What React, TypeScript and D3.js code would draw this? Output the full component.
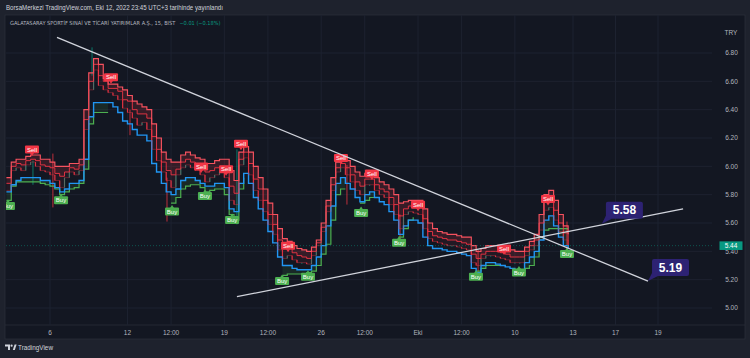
import React, { useLayoutEffect, useRef, useState } from "react";
import * as d3 from "d3";

const W = 750;
const H = 358;

// Time axis (trading days, Sep 6 = day 1)
const dayTicks = [1, 5, 7.25, 10, 12.25, 15, 17.25, 20, 22.25, 25, 28, 30, 32];
const dayTickLabels = ["6", "12", "12:00", "19", "12:00", "26", "12:00", "Eki", "12:00", "10", "13", "17", "19"];
const priceTicks = [5.0, 5.2, 5.4, 5.6, 5.8, 6.0, 6.2, 6.4, 6.6, 6.8];

const startDay = -1.25;
const stepDay = 0.25;

const closeVals = [
  5.83, 5.97, 5.99, 5.97, 6.01, 6.03, 6.0, 5.97, 5.96, 5.94,
  5.9, 5.85, 5.92, 5.96, 5.94, 5.97, 6.26, 6.54, 6.68, 6.57,
  6.54, 6.52, 6.5, 6.47, 6.41, 6.38, 6.34, 6.29, 6.31, 6.26,
  6.12, 6.04, 5.96, 5.9, 5.85, 5.94, 5.99, 6.01, 5.99, 5.97,
  5.94, 5.89, 5.92, 5.94, 5.96, 5.92, 5.76, 5.73, 6.01, 6.06,
  5.94, 5.83, 5.76, 5.68, 5.59, 5.52, 5.41, 5.35, 5.37, 5.34,
  5.32, 5.32, 5.31, 5.37, 5.44, 5.54, 5.68, 5.83, 5.96, 5.99,
  5.94, 5.89, 5.83, 5.8, 5.87, 5.87, 5.83, 5.8, 5.78, 5.73,
  5.66, 5.56, 5.66, 5.68, 5.67, 5.66, 5.56, 5.49, 5.47, 5.46,
  5.45, 5.44, 5.44, 5.43, 5.42, 5.41, 5.32, 5.3, 5.35, 5.37,
  5.37, 5.36, 5.35, 5.34, 5.32, 5.32, 5.32, 5.37, 5.41, 5.44,
  5.55, 5.69, 5.71, 5.62, 5.54, 5.48, 5.44,
];

const redTop = [
  5.92, 6.03, 6.05, 6.05, 6.07, 6.08, 6.08, 6.05, 6.05, 6.03,
  6.0, 6.0, 6.0, 6.02, 6.02, 6.05, 6.4, 6.66, 6.76, 6.72,
  6.62, 6.58, 6.58, 6.56, 6.54, 6.5, 6.46, 6.44, 6.42, 6.4,
  6.3, 6.2, 6.1, 6.05, 6.03, 6.03, 6.08, 6.1, 6.08, 6.06,
  6.05, 6.02, 6.02, 6.04, 6.05, 6.05, 5.97, 5.9, 6.1, 6.14,
  6.1, 6.0, 5.92, 5.84, 5.74, 5.66, 5.56, 5.49, 5.47, 5.44,
  5.42, 5.41, 5.4, 5.43, 5.48, 5.6, 5.76, 5.92, 6.03, 6.06,
  6.04, 6.0, 5.96, 5.93, 5.95, 5.96, 5.92, 5.89, 5.87, 5.84,
  5.8, 5.74, 5.75, 5.76, 5.76, 5.76, 5.7, 5.6, 5.56, 5.54,
  5.53, 5.52, 5.52, 5.51, 5.5, 5.5, 5.44, 5.4, 5.42, 5.44,
  5.44, 5.44, 5.43, 5.42, 5.41, 5.4, 5.4, 5.43, 5.47, 5.52,
  5.66, 5.8, 5.83, 5.76, 5.66, 5.58, 5.52,
];

const redMid = [
  5.88, 6.0, 6.02, 6.01, 6.04, 6.05, 6.04, 6.01, 6.0, 5.99,
  5.95, 5.93, 5.96, 5.99, 5.98, 6.01, 6.33, 6.6, 6.72, 6.64,
  6.6, 6.55, 6.55, 6.53, 6.47, 6.46, 6.4, 6.37, 6.37, 6.34,
  6.21, 6.12, 6.03, 5.97, 5.94, 5.98, 6.03, 6.05, 6.03, 6.01,
  5.99, 5.96, 5.97, 5.99, 6.0, 5.98, 5.86, 5.81, 6.05, 6.1,
  6.02, 5.91, 5.84, 5.76, 5.66, 5.59, 5.48, 5.42, 5.42, 5.39,
  5.37, 5.36, 5.35, 5.4, 5.46, 5.57, 5.72, 5.87, 5.99, 6.02,
  5.99, 5.94, 5.89, 5.86, 5.91, 5.91, 5.87, 5.84, 5.82, 5.78,
  5.73, 5.65, 5.7, 5.72, 5.71, 5.71, 5.63, 5.54, 5.51, 5.5,
  5.49, 5.48, 5.48, 5.47, 5.46, 5.45, 5.38, 5.35, 5.38, 5.4,
  5.4, 5.4, 5.39, 5.38, 5.36, 5.36, 5.36, 5.4, 5.44, 5.48,
  5.6, 5.75, 5.77, 5.69, 5.6, 5.53, 5.48,
];

const blueVals = [
  5.82, 5.87, 5.9, 5.92, 5.92, 5.92, 5.92, 5.9, 5.9, 5.88,
  5.85, 5.82, 5.84, 5.88, 5.88, 5.9, 6.05, 6.35, 6.45, 6.45,
  6.45, 6.45, 6.42, 6.38, 6.32, 6.3, 6.26, 6.22, 6.22, 6.18,
  6.02, 5.96, 5.88, 5.82, 5.8, 5.84, 5.9, 5.92, 5.92, 5.9,
  5.88, 5.86, 5.86, 5.88, 5.88, 5.85, 5.7, 5.68, 5.88, 5.95,
  5.88, 5.78, 5.7, 5.62, 5.54, 5.46, 5.36, 5.3, 5.3, 5.28,
  5.27, 5.27, 5.27, 5.3, 5.36, 5.44, 5.58, 5.72, 5.88, 5.92,
  5.88, 5.84, 5.78, 5.75, 5.8, 5.82, 5.78, 5.75, 5.73, 5.68,
  5.62, 5.52, 5.58, 5.62, 5.62, 5.6, 5.5, 5.44, 5.42, 5.42,
  5.41, 5.4, 5.4, 5.39, 5.38, 5.37, 5.28, 5.25, 5.3, 5.32,
  5.32, 5.31, 5.3, 5.29, 5.28, 5.27, 5.27, 5.32, 5.36, 5.4,
  5.48, 5.62, 5.65, 5.58, 5.5, 5.44, 5.42,
];

const greenVals: (number | null)[] = [
  5.76, 5.86, 5.89, 5.89, 5.89, 5.89, 5.89, 5.88, 5.87, 5.86,
  5.84, 5.8, 5.82, 5.84, 5.85, 5.88, 5.98, 6.3, 6.38, 6.38,
  6.38, 6.38, null, null, null, null, null, null, null, null,
  null, null, null, null, 5.74, 5.78, 5.84, 5.86, 5.87, 5.87,
  5.85, 5.82, 5.83, 5.84, 5.84, 5.8, 5.66, 5.62, 5.84, 5.92,
  null, null, null, null, null, null, null, 5.23, 5.24, 5.24,
  5.24, 5.24, 5.25, 5.26, 5.3, 5.38, 5.45, 5.62, 5.8, 5.84,
  5.84, null, null, 5.74, 5.76, 5.78, 5.78, null, null, null,
  null, 5.5, 5.56, 5.62, 5.64, null, null, null, null, null,
  null, null, null, null, null, null, null, 5.26, 5.28, 5.3,
  5.3, 5.3, 5.3, 5.3, null, null, 5.26, 5.28, 5.3, 5.36,
  5.5, 5.55, 5.56, 5.56, 5.56, 5.56, 5.56,
];

// Notable candle wicks: day, high, low
const wickDays = [0.12, 1.15, 3.17, 5.13, 7.04, 10.65, 16.33, 19.07, 23.1, 27.69];
const wickHighs = [6.04, 6.09, 6.84, 6.4, 5.92, 6.12, 6.01, 5.66, 5.41, 5.61];
const wickLows = [5.87, 5.71, 6.64, 6.22, 5.61, 5.59, 5.73, 5.44, 5.25, 5.4];

// Signals: day position and anchor price
const sellDays = [0.07, 4.15, 8.8, 10.09, 10.86, 13.29, 16.02, 17.62, 20.0, 24.44, 26.71];
const sellPrices = [6.07, 6.58, 5.95, 5.93, 6.11, 5.39, 6.01, 5.9, 5.68, 5.37, 5.72];
const buyDays = [-1.17, 1.57, 7.3, 9.0, 10.4, 12.98, 14.32, 17.06, 19.02, 22.99, 25.21, 27.69];
const buyPrices = [5.77, 5.81, 5.73, 5.84, 5.67, 5.24, 5.27, 5.72, 5.51, 5.27, 5.3, 5.43];

// Trend lines [day, price]
const trendDown = [[1.36, 6.91], [31.53, 5.19]];
const trendUp = [[10.65, 5.08], [33.18, 5.7]];
const calloutDays = [29.36, 31.53];
const calloutPrices = [5.595, 5.19];
const calloutTexts = ["5.58", "5.19"];

const lastPrice = 5.44;

const legendName = "GALATASARAY SPORTİF SINAİ VE TİCARİ YATIRIMLAR A.Ş., 15, BIST";
const legendChange = "−0.01 (−0.18%)";

const FONT = "'Liberation Sans', Arial, sans-serif";
const NARROW = "'Liberation Sans Narrow', 'DejaVu Sans Condensed', 'Liberation Sans', sans-serif";

export default function App() {
  const plotL = 6, plotR = 712, plotT = 15, plotB = 325;
  const x = d3.scaleLinear().domain([1, 28, 32]).range([50, 573, 658]);
  const y = d3.scaleLinear().domain([5.0, 6.8]).range([308, 53]);

  const legendRef = useRef<SVGTextElement>(null);
  const [legendEnd, setLegendEnd] = useState(190);
  useLayoutEffect(() => {
    if (legendRef.current) {
      setLegendEnd(10 + legendRef.current.getComputedTextLength());
    }
  }, []);

  const days = closeVals.map((_, i) => startDay + i * stepDay);

  const stepLine = (vals: (number | null)[]) =>
    d3
      .line<number>()
      .defined((i) => vals[i] != null)
      .x((i) => x(days[i]))
      .y((i) => y(vals[i] as number))
      .curve(d3.curveStepAfter)(d3.range(vals.length)) || "";

  const redArea =
    d3
      .area<number>()
      .x((i) => x(days[i]))
      .y0((i) => y(redMid[i]))
      .y1((i) => y(redTop[i]))
      .curve(d3.curveStepAfter)(d3.range(redTop.length)) || "";

  const redArea2 =
    d3
      .area<number>()
      .x((i) => x(days[i]))
      .y0((i) => y(closeVals[i]))
      .y1((i) => y(redMid[i]))
      .curve(d3.curveStepAfter)(d3.range(redTop.length)) || "";

  const greenArea =
    d3
      .area<number>()
      .defined((i) => greenVals[i] != null)
      .x((i) => x(days[i]))
      .y0((i) => y(greenVals[i] as number))
      .y1((i) => y(blueVals[i]))
      .curve(d3.curveStepAfter)(d3.range(greenVals.length)) || "";

  const nearestIdx = (d: number) =>
    Math.max(1, Math.min(closeVals.length - 1, Math.round((d - startDay) / stepDay)));

  return (
    <svg
      width={W}
      height={H}
      style={{ position: "absolute", left: 0, top: 0, display: "block" }}
      fontFamily={FONT}
    >
      <defs>
        <clipPath id="plotClip">
          <rect x={plotL} y={plotT} width={plotR - plotL} height={plotB - plotT} />
        </clipPath>
      </defs>
      <rect x={0} y={0} width={W} height={H} fill="#1e222d" />
      <rect x={5} y={15} width={740} height={324} fill="#131722" stroke="#2a2e39" strokeWidth={0.8} />
      <line x1={5} x2={745} y1={plotB} y2={plotB} stroke="#2a2e39" strokeWidth={0.8} />

      {/* header */}
      <text x={6} y={10} fontSize={6.5} fill="#d1d4dc" textLength={217} lengthAdjust="spacingAndGlyphs">
        BorsaMerkezi TradingView.com, Eki 12, 2022 23:45 UTC+3 tarihinde yayınlandı
      </text>

      {/* grid */}
      {priceTicks.map((p) => (
        <line key={"hg" + p} x1={plotL} x2={plotR} y1={y(p)} y2={y(p)} stroke="#1d2230" strokeWidth={1} />
      ))}
      {dayTicks.map((d, i) => (
        <line key={"vg" + i} x1={x(d)} x2={x(d)} y1={plotT} y2={plotB} stroke="#1d2230" strokeWidth={1} />
      ))}

      {/* legend */}
      <text ref={legendRef} x={10} y={25} fontSize={5.6} fill="#b2b5be" fontFamily={NARROW}>
        {legendName}
      </text>
      <text x={legendEnd + 4} y={25} fontSize={5.6} fill="#089981" fontFamily={NARROW}>
        {legendChange}
      </text>

      <g clipPath="url(#plotClip)">
        <path d={redArea} fill="#f23645" fillOpacity={0.16} />
        <path d={redArea2} fill="#f23645" fillOpacity={0.07} />
        <path d={greenArea} fill="#4caf50" fillOpacity={0.12} />
        {/* candles */}
        {closeVals.map((c, i) => {
          if (i === 0) return null;
          const o = closeVals[i - 1];
          const up = c >= o;
          const y0 = y(Math.max(o, c));
          const y1 = y(Math.min(o, c));
          return (
            <rect
              key={"c" + i}
              x={x(days[i]) - 0.6}
              y={y0}
              width={1.2}
              height={Math.max(1, y1 - y0)}
              fill={up ? "#089981" : "#f23645"}
              opacity={0.85}
            />
          );
        })}
        {wickDays.map((d, i) => {
          const k = nearestIdx(d);
          const up = closeVals[k] >= closeVals[k - 1];
          return (
            <line
              key={"w" + i}
              x1={x(d)}
              x2={x(d)}
              y1={y(wickHighs[i])}
              y2={y(wickLows[i])}
              stroke={up ? "#089981" : "#f23645"}
              strokeWidth={0.9}
              strokeOpacity={0.85}
            />
          );
        })}
        <path d={stepLine(greenVals)} fill="none" stroke="#4caf50" strokeWidth={1.2} />
        <path d={stepLine(blueVals)} fill="none" stroke="#2196f3" strokeWidth={1.4} />
        <path d={stepLine(redMid)} fill="none" stroke="#f23645" strokeWidth={0.9} />
        <path d={stepLine(redTop)} fill="none" stroke="#f7525f" strokeWidth={1.15} />
        <path d={stepLine(closeVals)} fill="none" stroke="#f23645" strokeWidth={0.6} strokeOpacity={0.6} />

        {/* last price line */}
        <line x1={plotL} x2={plotR} y1={y(lastPrice)} y2={y(lastPrice)} stroke="#089981" strokeWidth={0.6} strokeDasharray="1 2" strokeOpacity={0.8} />

        {/* signals */}
        {sellDays.map((d, i) => {
          const cx = x(d);
          const ay = y(sellPrices[i]);
          const cy = ay - 7;
          return (
            <g key={"s" + i}>
              <path d={`M${cx - 2},${cy + 3.5} L${cx + 2},${cy + 3.5} L${cx},${ay - 0.5} Z`} fill="#f23645" />
              <rect x={cx - 7} y={cy - 4} width={14} height={8} rx={1} fill="#f23645" />
              <text x={cx} y={cy + 2.1} fontSize={6} fill="#ffffff" textAnchor="middle">Sell</text>
            </g>
          );
        })}
        {buyDays.map((d, i) => {
          const cx = x(d);
          const ay = y(buyPrices[i]);
          const cy = ay + 7;
          return (
            <g key={"b" + i}>
              <path d={`M${cx - 2},${cy - 3.5} L${cx + 2},${cy - 3.5} L${cx},${ay + 0.5} Z`} fill="#4caf50" />
              <rect x={cx - 7} y={cy - 4} width={14} height={8} rx={1} fill="#4caf50" />
              <text x={cx} y={cy + 2.1} fontSize={6} fill="#ffffff" textAnchor="middle">Buy</text>
            </g>
          );
        })}

        {/* trend lines */}
        {[trendDown, trendUp].map((t, i) => (
          <line
            key={"t" + i}
            x1={x(t[0][0])}
            y1={y(t[0][1])}
            x2={x(t[1][0])}
            y2={y(t[1][1])}
            stroke="#d1d4dc"
            strokeWidth={1.3}
          />
        ))}
        {calloutDays.map((d, i) => {
          const ax = x(d);
          const ay = y(calloutPrices[i]);
          const bx = ax + 4;
          const by = ay - 22;
          return (
            <g key={"co" + i}>
              <path d={`M${ax},${ay} L${bx},${by + 14} L${bx + 6},${by + 17} Z`} fill="#2d2273" />
              <rect x={bx} y={by} width={37} height={17} rx={2} fill="#2d2273" />
              <text x={bx + 18.5} y={by + 12.6} fontSize={12} fontWeight="bold" fill="#ffffff" textAnchor="middle">
                {calloutTexts[i]}
              </text>
            </g>
          );
        })}
      </g>

      {/* price axis */}
      <text x={731} y={35} fontSize={6.5} fill="#b2b5be" textAnchor="middle">TRY</text>
      {priceTicks.map((p) => (
        <text key={"yl" + p} x={731.5} y={y(p) + 2.3} fontSize={6.5} fill="#b2b5be" textAnchor="middle">
          {p.toFixed(2)}
        </text>
      ))}
      <rect x={719.5} y={y(lastPrice) - 4.3} width={23} height={8.6} fill="#089981" />
      <text x={731} y={y(lastPrice) + 2.3} fontSize={6.5} fill="#ffffff" textAnchor="middle">
        {lastPrice.toFixed(2)}
      </text>

      {/* time axis */}
      {dayTicks.map((d, i) => (
        <text key={"xl" + i} x={x(d)} y={335} fontSize={6.5} fill="#b2b5be" textAnchor="middle">
          {dayTickLabels[i]}
        </text>
      ))}

      {/* TradingView logo */}
      <g fill="#d1d4dc">
        <path d="M5,344.5 h5 v5.5 h-2 v-3.5 h-3 Z" />
        <circle cx={11.6} cy={345.7} r={1.1} />
        <path d="M12.8,350 L14.6,344.5 L16.6,344.5 L14.8,350 Z" />
      </g>
      <text x={18} y={350.3} fontSize={7} fill="#d1d4dc" textLength={35} lengthAdjust="spacingAndGlyphs">TradingView</text>
    </svg>
  );
}
